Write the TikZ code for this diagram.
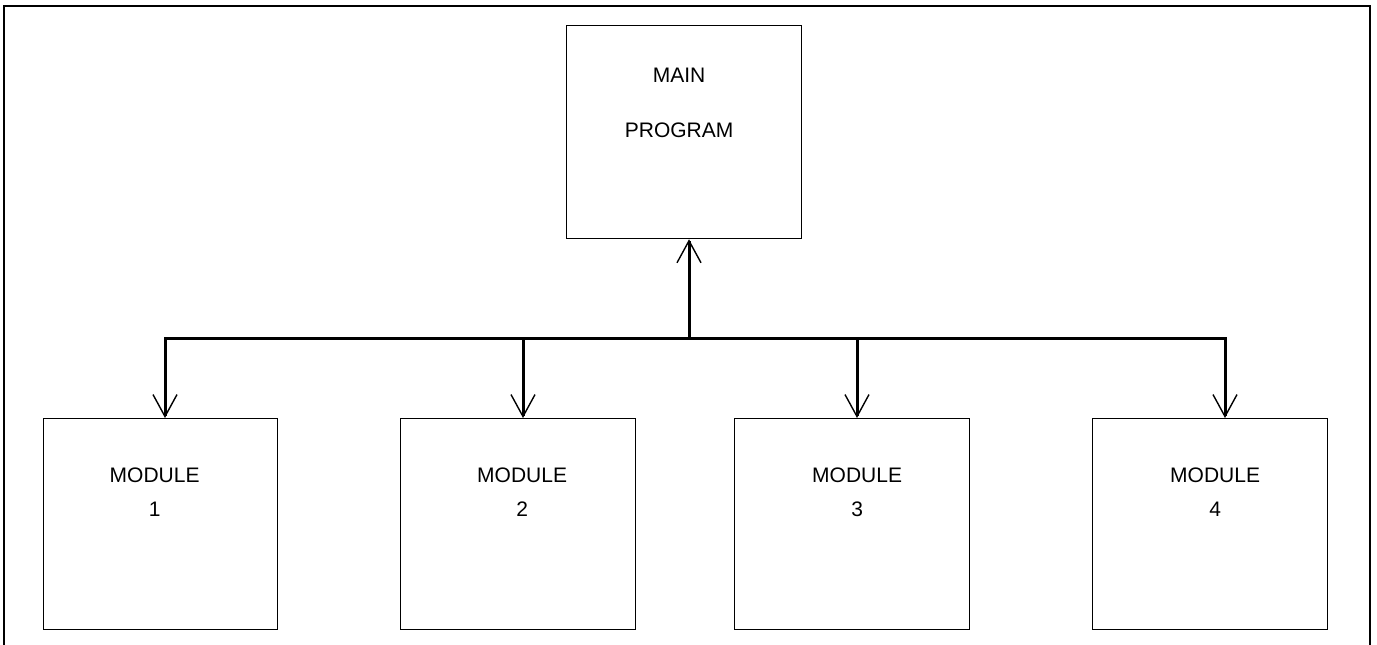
\documentclass[tikz,border=0pt]{standalone}
\usepackage{fontspec}
\setmainfont{Liberation Sans}
\usetikzlibrary{arrows.meta,calc}
\begin{document}
\begin{tikzpicture}[x=1pt,y=-1pt,
  box/.style={draw,line width=1.3pt,minimum width=235pt,minimum height=211pt,inner sep=0pt,anchor=north west},
  lbl/.style={font=\fontsize{21}{34}\selectfont,align=center,inner sep=0pt},
  conn/.style={line width=3pt,line join=miter},
  tip/.style={-{Straight Barb[length=22pt,width=24pt,line width=1.4pt]}},
  frame/.style={line width=2.4pt}]
\useasboundingbox (0,0) rectangle (1377,645);
% frame
\draw[frame] (4,645) -- (4,6) -- (1370,6) -- (1370,645);
% boxes
\node[box,minimum height=213pt] (main) at (566,25) {};
\node[box,minimum width=234pt] (m1) at (43,418) {};
\node[box] (m2) at (400,418) {};
\node[box] (m3) at (734,418) {};
\node[box] (m4) at (1092,418) {};
% labels
\node[lbl,font=\fontsize{21}{55}\selectfont] (lmain) at ($(main.north)+(-5,78)$) {MAIN\\PROGRAM};
\node[lbl] (l1) at ($(m1.north)+(-6,74)$) {MODULE\\1};
\node[lbl] (l2) at ($(m2.north)+(4,74)$) {MODULE\\2};
\node[lbl] (l3) at ($(m3.north)+(5,74)$) {MODULE\\3};
\node[lbl] (l4) at ($(m4.north)+(5,74)$) {MODULE\\4};
% connector points
\coordinate (tm) at ($(main.south west)+(123,0)$);
\coordinate (t1) at ($(m1.north west)+(122,0)$);
\coordinate (t2) at ($(m2.north west)+(123,0)$);
\coordinate (t3) at ($(m3.north west)+(123,0)$);
\coordinate (t4) at ($(m4.north west)+(133,0)$);
\coordinate (bus) at (689,338);
% connectors
\draw[conn,tip] (bus) -| (t1);
\draw[conn,tip] (bus) -| (t4);
\draw[conn,tip] (t2 |- bus) -- (t2);
\draw[conn,tip] (t3 |- bus) -- (t3);
\draw[conn,tip] (bus) -- (tm);
\end{tikzpicture}
\end{document}
